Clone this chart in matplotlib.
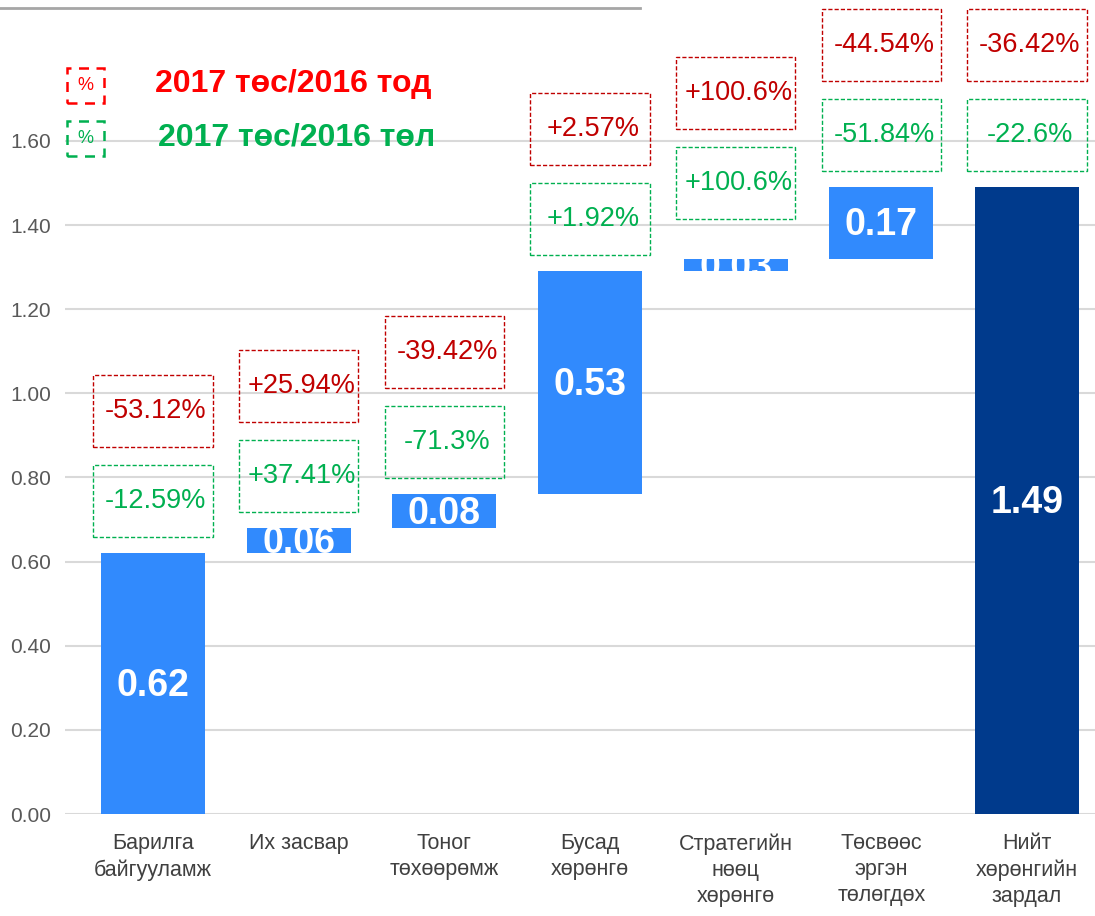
import matplotlib
matplotlib.use('Agg')
import matplotlib.pyplot as plt
from matplotlib.patches import Rectangle
from matplotlib.lines import Line2D

plt.rcParams['font.family'] = ['Liberation Sans', 'DejaVu Sans']

categories = ['Барилга\nбайгууламж', 'Их засвар', 'Тоног\nтөхөөрөмж', 'Бусад\nхөрөнгө',
              'Стратегийн\nнөөц\nхөрөнгө', 'Төсвөөс\nэргэн\nтөлөгдөх', 'Нийт\nхөрөнгийн\nзардал']
values = [0.62, 0.06, 0.08, 0.53, 0.03, 0.17, 1.49]
red_pct = ['-53.12%', '+25.94%', '-39.42%', '+2.57%', '+100.6%', '-44.54%', '-36.42%']
green_pct = ['-12.59%', '+37.41%', '-71.3%', '+1.92%', '+100.6%', '-51.84%', '-22.6%']
legend_labels = ['2017 төс/2016 тод', '2017 төс/2016 төл']

BLUE = '#318AFD'
NAVY = '#003A8C'
RED_BOX = '#C00000'
GREEN_BOX = '#00B050'

fig = plt.figure(figsize=(10.95, 9.16), dpi=100)
ax = fig.add_axes([65 / 1095, 102 / 916, 1030 / 1095, 814 / 916])

# waterfall: each step starts where the previous one ended, last bar is the total
bottoms = []
running = 0.0
for v in values[:-1]:
    bottoms.append(running)
    running += v
bottoms.append(0.0)
colors = [BLUE] * (len(values) - 1) + [NAVY]

x = list(range(len(values)))
bars = ax.bar(x, values, bottom=bottoms, width=0.714, color=colors, zorder=3)

for rect, v, b in zip(bars, values, bottoms):
    t = ax.text(rect.get_x() + rect.get_width() / 2, b + v / 2 - 0.006, f'{v:.2f}',
                ha='center', va='center', color='white', fontsize=27,
                fontweight='bold', zorder=4)
    t.set_clip_path(rect)

# dashed percentage boxes above each bar
box_w, box_h = 0.82, 0.17
green_gap = [0.124, 0.124, 0.124, 0.124, 0.18, 0.124, 0.124]
for i, (v, b) in enumerate(zip(values, bottoms)):
    top = b + v
    gy = top + green_gap[i]
    ry = gy + 0.214
    for cy, label, col in [(gy, green_pct[i], GREEN_BOX), (ry, red_pct[i], RED_BOX)]:
        ax.add_patch(Rectangle((i - box_w / 2, cy - box_h / 2), box_w, box_h,
                               fill=False, edgecolor=col, linestyle=(0, (3, 1.5)),
                               linewidth=1.0, zorder=5, clip_on=False))
        ax.text(i + 0.02, cy, label, ha='center', va='center', color=col,
                fontsize=19.5, zorder=6, clip_on=False)

ax.set_xlim(-0.604, 6.467)
ax.set_ylim(0, 1.935)
ax.set_yticks([0.0, 0.2, 0.4, 0.6, 0.8, 1.0, 1.2, 1.4, 1.6])
ax.set_yticklabels([f'{t:.2f}' for t in ax.get_yticks()])
ax.set_xticks(x)
ax.set_xticklabels(categories, linespacing=1.3)
ax.tick_params(axis='y', length=0, pad=10, labelsize=15, labelcolor='#595959')
ax.tick_params(axis='x', length=0, pad=14, labelsize=15.5, labelcolor='#404040')
ax.grid(axis='y', color='#D9D9D9', linewidth=1.5, zorder=0)
for s in ax.spines.values():
    s.set_visible(False)

# legend drawn by hand in figure pixels
def fx(px):
    return px / 1095

def fy(py):
    return 1 - py / 916

for (top_px, label, col, edge, tx) in [(68, legend_labels[0], '#FF0000', '#FF0000', 155),
                                        (121, legend_labels[1], GREEN_BOX, GREEN_BOX, 158)]:
    fig.add_artist(Rectangle((fx(67), fy(top_px + 35)), fx(37), 35 / 916, fill=False,
                             edgecolor=edge, linestyle=(0, (4, 3)), linewidth=1.8,
                             transform=fig.transFigure))
    fig.text(fx(85.5), fy(top_px + 17.5), '%', ha='center', va='center', color=col,
             fontsize=13)
    fig.text(fx(tx), fy(top_px + 16), label, ha='left', va='center', color=col,
             fontsize=23, fontweight='bold')

fig.add_artist(Line2D([0, 640 / 1095], [fy(8), fy(8)], color='#A6A6A6', linewidth=2,
                      transform=fig.transFigure))

fig.savefig('out.png', dpi=100)
